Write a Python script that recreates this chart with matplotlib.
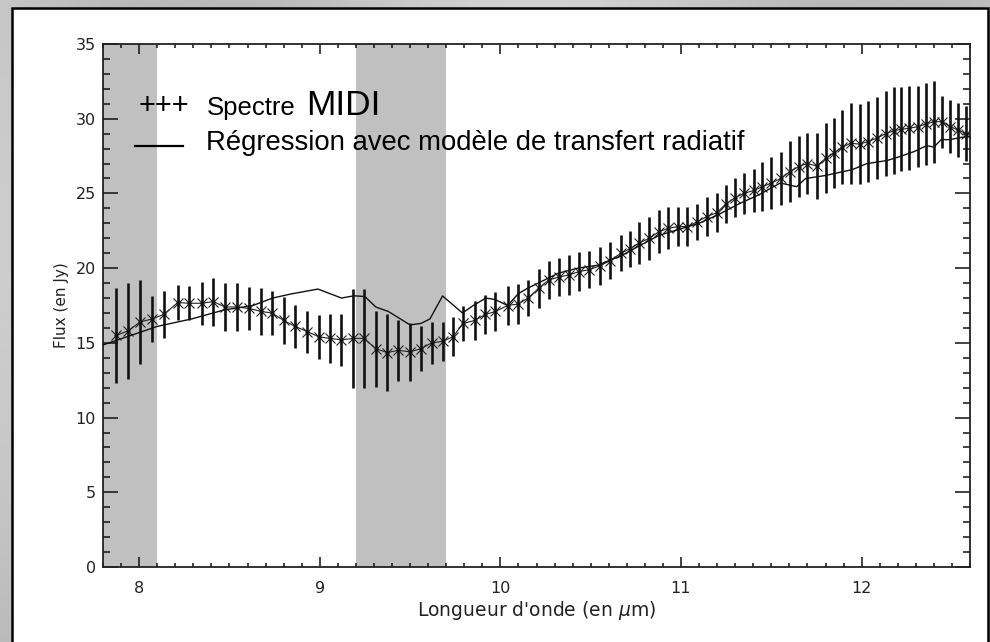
import numpy as np
import matplotlib
matplotlib.use("Agg")
import matplotlib.pyplot as plt
from matplotlib.patches import Rectangle
from matplotlib.ticker import MultipleLocator

# MIDI spectrum: wavelength (um), flux (Jy), 1-sigma error (Jy)
wavelength = [7.873, 7.938, 8.006, 8.072, 8.136, 8.214, 8.278, 8.346, 8.410, 8.477,
              8.543, 8.609, 8.676, 8.735, 8.800, 8.864, 8.932, 8.996, 9.057, 9.120,
              9.186, 9.245, 9.311, 9.374, 9.435, 9.499, 9.558, 9.620, 9.680, 9.737,
              9.794, 9.858, 9.917, 9.972, 10.040, 10.098, 10.153, 10.212, 10.267, 10.322,
              10.381, 10.436, 10.493, 10.549, 10.608, 10.667, 10.718, 10.770, 10.825, 10.878,
              10.930, 10.985, 11.035, 11.090, 11.142, 11.197, 11.249, 11.298, 11.348, 11.403,
              11.451, 11.501, 11.552, 11.602, 11.652, 11.698, 11.753, 11.801, 11.847, 11.893,
              11.939, 11.989, 12.035, 12.085, 12.133, 12.179, 12.220, 12.265, 12.311, 12.358,
              12.398, 12.444, 12.490, 12.532, 12.579]
flux = [15.5, 15.8, 16.4, 16.6, 16.9, 17.7, 17.65, 17.65, 17.76, 17.4,
        17.4, 17.3, 17.1, 17.0, 16.5, 16.1, 15.75, 15.4, 15.3, 15.2,
        15.3, 15.3, 14.6, 14.35, 14.5, 14.4, 14.6, 15.0, 15.1, 15.4,
        16.3, 16.5, 16.9, 17.1, 17.5, 17.6, 18.0, 18.65, 19.2, 19.4,
        19.55, 19.77, 19.9, 20.15, 20.5, 21.0, 21.3, 21.7, 22.0, 22.44,
        22.67, 22.78, 22.78, 23.1, 23.45, 23.7, 24.3, 24.7, 25.0, 25.2,
        25.45, 25.7, 26.0, 26.46, 26.8, 27.0, 26.84, 27.36, 27.7, 28.1,
        28.36, 28.3, 28.47, 28.7, 29.0, 29.2, 29.3, 29.36, 29.47, 29.65,
        29.8, 29.8, 29.47, 29.25, 29.0]
flux_err = [3.2, 3.2, 2.8, 1.55, 1.55, 1.2, 1.15, 1.45, 1.6, 1.63,
            1.63, 1.43, 1.6, 1.5, 1.55, 1.45, 1.4, 1.45, 1.65, 1.75,
            3.3, 3.3, 2.55, 2.55, 2.05, 1.95, 1.5, 1.4, 1.3, 1.3,
            1.15, 1.3, 1.3, 1.33, 1.3, 1.35, 1.23, 1.3, 1.28, 1.25,
            1.35, 1.32, 1.25, 1.25, 1.25, 1.2, 1.2, 1.4, 1.45, 1.45,
            1.4, 1.3, 1.3, 1.2, 1.3, 1.3, 1.25, 1.3, 1.4, 1.45,
            1.65, 1.75, 1.8, 2.05, 2.05, 2.05, 2.2, 2.35, 2.35, 2.5,
            2.7, 2.7, 2.7, 2.75, 2.85, 2.9, 2.8, 2.8, 2.7, 2.75,
            2.75, 1.75, 1.75, 1.8, 1.85]

# Radiative transfer model fit
model_wavelength = [7.80, 8.10, 8.29, 8.47, 8.63, 8.74, 8.84, 8.99, 9.12, 9.19,
                    9.25, 9.31, 9.38, 9.50, 9.56, 9.61, 9.68, 9.79, 9.85, 9.92,
                    9.97, 10.04, 10.10, 10.15, 10.26, 10.32, 10.43, 10.54, 10.61, 10.66,
                    10.77, 10.88, 10.99, 11.10, 11.21, 11.32, 11.43, 11.55, 11.64, 11.69,
                    11.80, 11.95, 12.03, 12.14, 12.21, 12.29, 12.36, 12.40, 12.44, 12.49,
                    12.55, 12.60]
model_flux = [14.86, 16.1, 16.6, 17.2, 17.5, 18.0, 18.27, 18.6, 18.0, 18.15,
              18.1, 17.4, 17.1, 16.2, 16.3, 16.6, 18.14, 17.0, 17.5, 18.0,
              17.9, 17.5, 18.3, 18.65, 19.3, 19.66, 20.0, 20.2, 20.55, 20.77,
              21.5, 22.2, 22.6, 23.0, 23.6, 24.3, 24.9, 25.7, 25.45, 26.0,
              26.2, 26.6, 27.0, 27.2, 27.46, 27.8, 28.2, 28.1, 28.6, 28.6,
              28.75, 28.8]

# Masked (atmospheric) wavelength ranges
masked_bands = [(7.8, 8.1), (9.2, 9.7)]

xlim = (7.8, 12.6)
ylim = (0, 35)

W, H = 990, 642
fig = plt.figure(figsize=(W / 100, H / 100), dpi=100)

# Grey frame behind the white sheet
bg = fig.add_axes([0, 0, 1, 1], zorder=-10)
grad = np.linspace(0, 1, 256)
gx, gy = np.meshgrid(grad, grad)
shade = 0.73 + 0.05 * np.sin(gx * 9.0 + gy * 3.0) + 0.04 * gy
bg.imshow(shade, cmap="gray", vmin=0, vmax=1, extent=[0, 1, 0, 1],
          aspect="auto", origin="lower", interpolation="bicubic")
bg.add_patch(Rectangle((12 / W, -0.01), (988 - 12) / W, 1 - 8 / H + 0.01,
                       facecolor="white", edgecolor="black", linewidth=1.8,
                       transform=bg.transAxes))
bg.set_xlim(0, 1)
bg.set_ylim(0, 1)
bg.axis("off")

ax = fig.add_axes([103 / W, 1 - 567 / H, 867 / W, 523 / H])
ax.set_facecolor("none")

for lo, hi in masked_bands:
    ax.axvspan(lo, hi, color="#c0c0c0", linewidth=0, zorder=0)

ax.errorbar(wavelength, flux, yerr=flux_err, fmt="none", ecolor="#111111",
            elinewidth=1.9, capsize=0, zorder=3)
ax.plot(wavelength, flux, color="#222222", linewidth=0.8, marker="x",
        markersize=7.5, markeredgewidth=0.8, zorder=4)
ax.plot(wavelength, flux, linestyle="none", marker="o", markersize=2,
        color="#111111", zorder=4)
ax.plot(model_wavelength, model_flux, color="#111111", linewidth=1.0, zorder=5)

ax.set_xlim(*xlim)
ax.set_ylim(*ylim)
ax.xaxis.set_major_locator(MultipleLocator(1))
ax.xaxis.set_minor_locator(MultipleLocator(0.1))
ax.yaxis.set_major_locator(MultipleLocator(5))
ax.yaxis.set_minor_locator(MultipleLocator(1))
ax.tick_params(axis="both", which="both", direction="in", top=True, right=True,
               color="#111111", width=1.1, labelsize=11.5, labelcolor="#222222")
ax.tick_params(axis="x", which="major", length=7, pad=10)
ax.tick_params(axis="x", which="minor", length=3)
ax.tick_params(axis="y", which="major", length=11, pad=5)
ax.tick_params(axis="y", which="minor", length=5)
for s in ax.spines.values():
    s.set_linewidth(1.3)
    s.set_color("#222222")

ax.set_xlabel("Longueur d'onde (en $\\mu$m)", fontsize=13.5, color="#222222", labelpad=2)
ax.set_ylabel("Flux (en Jy)", fontsize=11, color="#222222", labelpad=5)


def fpos(x, y):
    return x / W, 1 - y / H


fig.text(*fpos(139, 114), "+++", fontsize=21, family="Liberation Sans",
         va="baseline", ha="left")
fig.text(*fpos(207, 115), "Spectre", fontsize=18.5, family="Liberation Sans",
         va="baseline", ha="left")
fig.text(*fpos(306, 115), "MIDI", fontsize=25.5, family="Liberation Sans",
         va="baseline", ha="left")
fig.add_artist(plt.Line2D([135 / W, 183 / W], [1 - 146 / H, 1 - 146 / H],
                          color="black", linewidth=1.6, transform=fig.transFigure))
fig.text(*fpos(206, 150), "Régression avec modèle de transfert radiatif",
         fontsize=19.8, family="Liberation Sans", va="baseline", ha="left")

fig.savefig("out.png", dpi=100)
